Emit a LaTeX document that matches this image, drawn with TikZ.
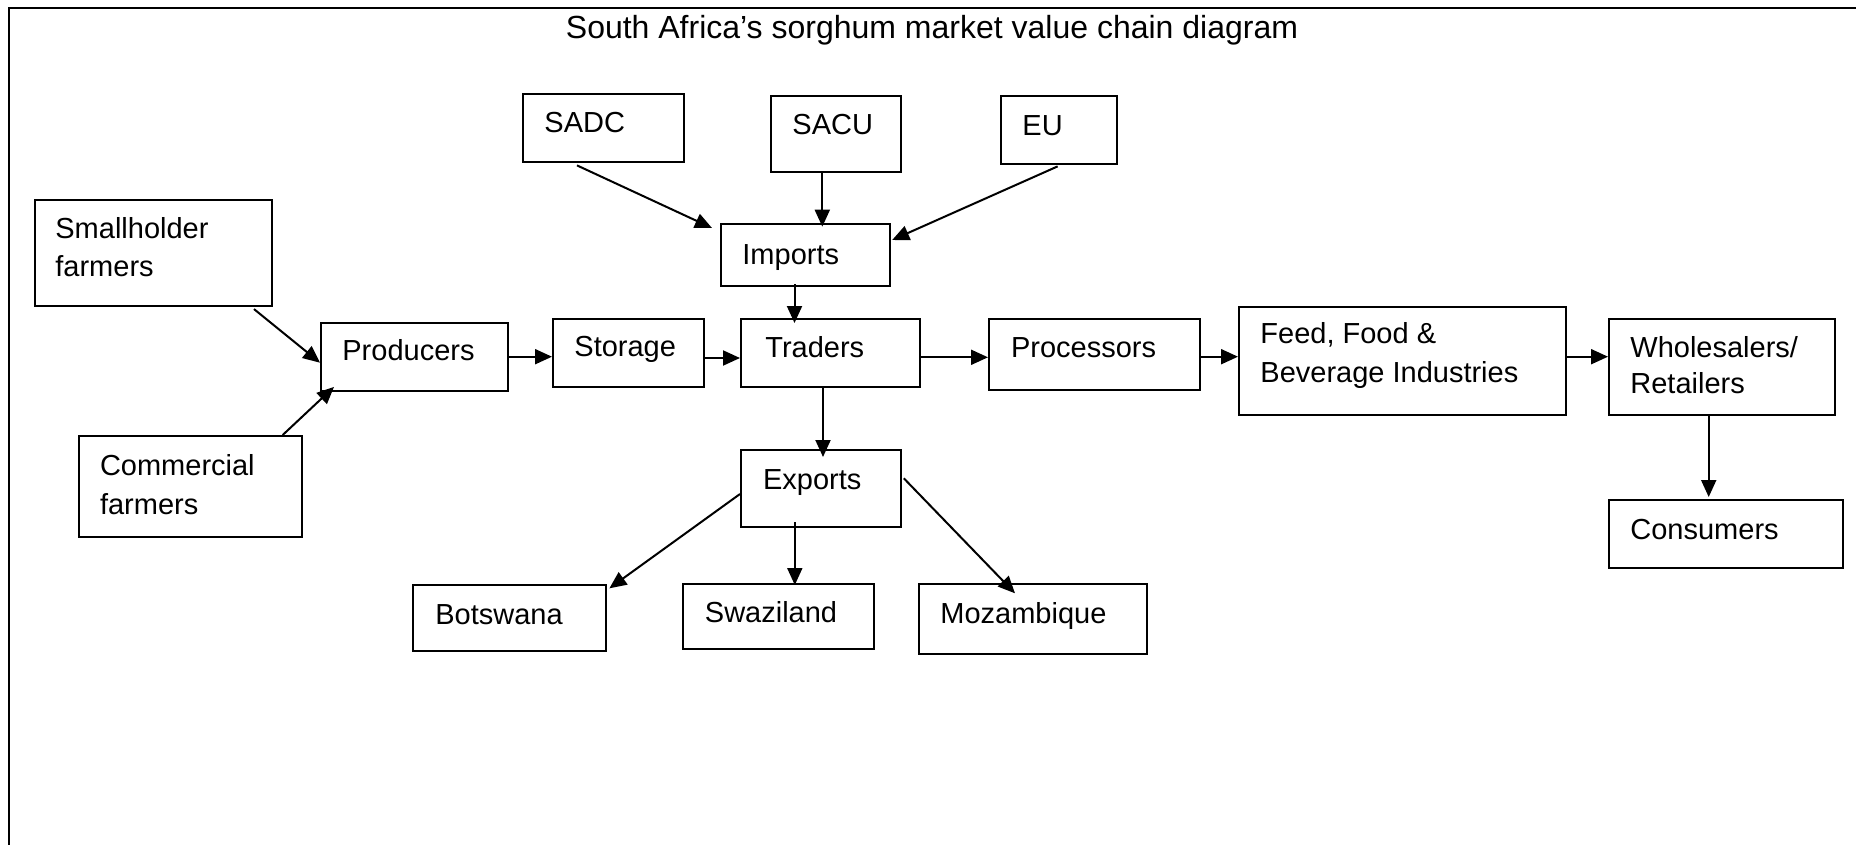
\documentclass[tikz,border=0pt]{standalone}
\usepackage{fontspec}
\setmainfont{Liberation Sans}
\usetikzlibrary{arrows.meta}
\tikzset{
  box/.style={draw, line width=1.2pt, rectangle, inner sep=0pt, anchor=north west},
  txt/.style={anchor=base west, inner sep=0pt, align=left, font=\fontsize{14.5}{19.2}\selectfont},
  conn/.style={line width=1pt, -{Triangle[length=8.5pt,width=7.5pt]}},
}
\newcommand\vcbox[5]{\node[box, minimum width={(#4-#2)*0.5pt}, minimum height={(#5-#3)*0.5pt}] (#1) at (#2,#3) {};}
\begin{document}
\begin{tikzpicture}[x=0.5pt,y=-0.5pt]
\useasboundingbox (0,0) rectangle (1856,845);
% frame
\draw[line width=1.1pt] (9,845) -- (9,8) -- (1856,8);
% title
\node[anchor=base, inner sep=0pt, font=\fontsize{16}{19}\selectfont] (title) at (932,39) {South Africa’s sorghum market value chain diagram};
% boxes
\vcbox{sadc}{522}{93}{683}{161}
\vcbox{sacu}{770}{95}{900}{171}
\vcbox{eu}{1000}{95}{1116}{163}
\vcbox{imports}{720}{223}{889}{285}
\vcbox{small}{34}{199}{271}{305}
\vcbox{comm}{78}{435}{301}{536}
\vcbox{prod}{320}{322}{507}{390}
\vcbox{stor}{552}{318}{703}{386}
\vcbox{trad}{740}{318}{919}{386}
\vcbox{proc}{988}{318}{1199}{389}
\vcbox{feed}{1238}{306}{1565}{414}
\vcbox{whol}{1608}{318}{1834}{414}
\vcbox{cons}{1608}{499}{1842}{567}
\vcbox{expo}{740}{449}{900}{526}
\vcbox{bots}{412}{584}{605}{650}
\vcbox{swaz}{682}{583}{873}{648}
\vcbox{moza}{918}{583}{1146}{653}
% texts (multi-line nodes: base = last line)
\node[txt] (sadct) at (544,133) {SADC};
\node[txt] (sacut) at (792,135) {SACU};
\node[txt] (eut) at (1022,136) {EU};
\node[txt] (importst) at (742,264) {Imports};
\node[txt] (smallt) at (55,277) {Smallholder\\farmers};
\node[txt] (commt) at (99.6,514) {Commercial\\farmers};
\node[txt] (prodt) at (342,360) {Producers};
\node[txt] (stort) at (574,356) {Storage};
\node[txt] (tradt) at (765,357) {Traders};
\node[txt] (proct) at (1010.7,357) {Processors};
\node[txt] (feedt) at (1260,382) {Feed, Food \&\\Beverage Industries};
\node[txt] (wholt) at (1630,393) {Wholesalers/\\[-1.5pt]Retailers};
\node[txt] (const) at (1630,539) {Consumers};
\node[txt] (expot) at (762.7,489) {Exports};
\node[txt] (botst) at (435,624) {Botswana};
\node[txt] (swazt) at (704.5,622) {Swaziland};
\node[txt] (mozat) at (940,623) {Mozambique};
% connectors
\draw[conn] ([shift={(55,2)}]sadc.south west) -- ([shift={(-8,5)}]imports.north west);
\draw[conn] ([shift={(52.3,0)}]sacu.south west) -- ([shift={(102.3,3.7)}]imports.north west);
\draw[conn] ([shift={(57.6,1)}]eu.south west) -- ([shift={(0.8,17)}]imports.north east);
\draw[conn] ([shift={(74.5,-3)}]imports.south west) -- ([shift={(54.5,5)}]trad.north west);
\draw[conn] ([shift={(220,1.7)}]small.south west) -- ([shift={(0,40.7)}]prod.north west);
\draw[conn] ([shift={(204.7,0)}]comm.north west) -- ([shift={(14,-5.5)}]prod.south west);
\draw[conn] ([shift={(0,34.7)}]prod.north east) -- ([shift={(0,38.7)}]stor.north west);
\draw[conn] ([shift={(0,40)}]stor.north east) -- ([shift={(0,40)}]trad.north west);
\draw[conn] ([shift={(0,39.3)}]trad.north east) -- ([shift={(0,39.3)}]proc.north west);
\draw[conn] ([shift={(0,38.7)}]proc.north east) -- ([shift={(0,50.7)}]feed.north west);
\draw[conn] ([shift={(0,50.7)}]feed.north east) -- ([shift={(0,38.7)}]whol.north west);
\draw[conn] ([shift={(100.7,0)}]whol.south west) -- ([shift={(100.7,-2)}]cons.north west);
\draw[conn] ([shift={(83,0)}]trad.south west) -- ([shift={(83,8)}]expo.north west);
\draw[conn] ([shift={(0,45)}]expo.north west) -- ([shift={(2,4.3)}]bots.north east);
\draw[conn] ([shift={(54.8,-6)}]expo.south west) -- ([shift={(112.8,2)}]swaz.north west);
\draw[conn] ([shift={(1.4,29.3)}]expo.north east) -- ([shift={(97,10.3)}]moza.north west);
\end{tikzpicture}
\end{document}
